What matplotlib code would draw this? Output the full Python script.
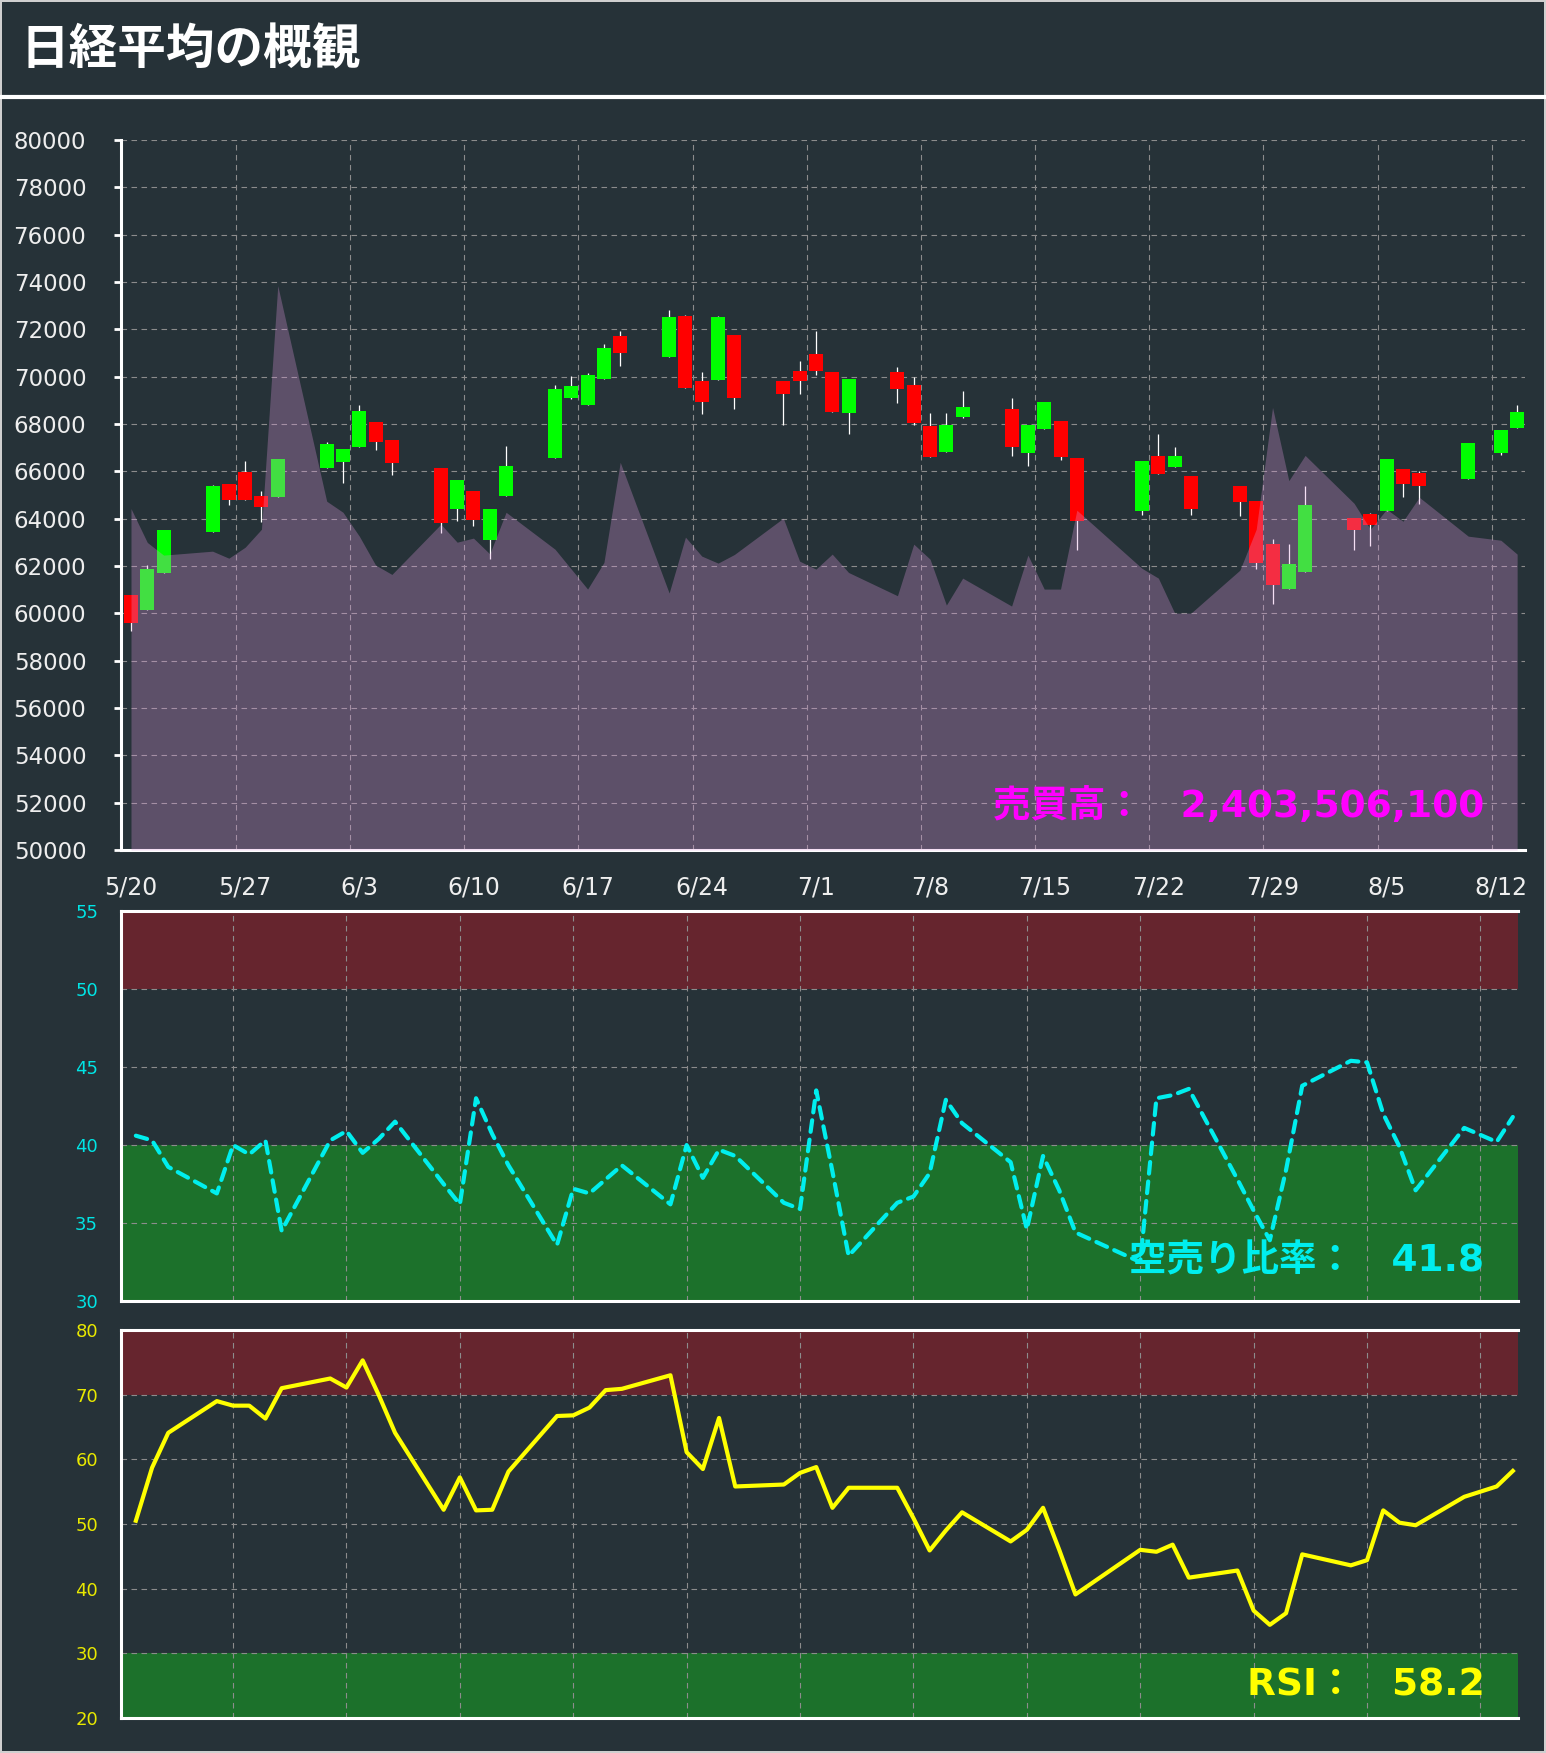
import numpy as np
import pandas as pd
import matplotlib
matplotlib.use('Agg')
import matplotlib.pyplot as plt
from matplotlib.lines import Line2D

plt.rcParams['font.family'] = ['DejaVu Sans', 'Noto Sans CJK JP']

# 取引日 (2020年)
dates = ['5/20', '5/21', '5/22', '5/25', '5/26', '5/27', '5/28', '5/29',
         '6/1', '6/2', '6/3', '6/4', '6/5', '6/8', '6/9', '6/10', '6/11', '6/12',
         '6/15', '6/16', '6/17', '6/18', '6/19', '6/22', '6/23', '6/24', '6/25', '6/26',
         '6/29', '6/30', '7/1', '7/2', '7/3', '7/6', '7/7', '7/8', '7/9', '7/10',
         '7/13', '7/14', '7/15', '7/16', '7/17', '7/21', '7/22', '7/23', '7/24',
         '7/27', '7/28', '7/29', '7/30', '7/31', '8/3', '8/4', '8/5', '8/6', '8/7',
         '8/10', '8/12', '8/13']

price_open = [60770, 60140, 61700, 63430, 65450, 65960, 64950, 64910, 66130, 66380,
              67010, 68070, 67310, 66130, 64400, 65160, 63090, 64950, 66550, 69080,
              68790, 69920, 71740, 70850, 72580, 69800, 69880, 71780, 69800, 70260,
              70980, 70220, 68450, 70180, 69670, 67900, 66800, 68280, 68620, 66760,
              67770, 68110, 66550, 64320, 66640, 66170, 65790, 65370, 64740, 62920,
              61030, 61740, 64020, 64190, 64320, 66090, 65920, 65670, 66760, 67820]
price_high = [60770, 62040, 63510, 65410, 65450, 66420, 65160, 66510, 67230, 66930,
              68790, 68070, 67310, 66130, 65620, 65160, 64400, 67060, 69670, 70010,
              70140, 71400, 71950, 72830, 72620, 70220, 72580, 71780, 69800, 70680,
              71950, 70220, 69920, 70390, 69970, 68450, 68450, 69380, 69080, 67940,
              68950, 68110, 66550, 66420, 67600, 67010, 65790, 65370, 64740, 63140,
              62920, 65370, 64020, 64230, 66510, 66090, 66000, 67180, 67730, 68790]
price_low = [59270, 60140, 61700, 63430, 64570, 64780, 63850, 64910, 66130, 65500,
             67010, 66890, 65830, 63390, 63890, 63680, 62290, 64950, 66550, 69040,
             68790, 69920, 70470, 70850, 69540, 68410, 69880, 68620, 67940, 69250,
             70090, 68490, 67560, 68870, 67980, 66590, 66800, 68240, 66640, 66210,
             67770, 66470, 62670, 64150, 65880, 66170, 64150, 64110, 61870, 60390,
             61030, 61740, 62670, 62840, 64320, 64910, 64610, 65670, 66680, 67820]
price_close = [59610, 61870, 63510, 65370, 64780, 64780, 64480, 66510, 67140, 66930,
               68570, 67230, 66340, 63810, 65620, 63940, 64400, 66210, 69500, 69590,
               70090, 71230, 71020, 72540, 69540, 68950, 72540, 69120, 69250, 69800,
               70260, 68490, 69920, 69500, 68030, 66590, 67940, 68740, 67010, 67940,
               68950, 66590, 63890, 66420, 65880, 66640, 64400, 64700, 62120, 61200,
               62080, 64570, 63510, 63730, 66510, 65450, 65370, 67180, 67730, 68490]

# 売買高 (億株)
volume = [27.74, 24.99, 23.96, 24.28, 23.71, 24.60, 26.06, 45.85, 28.34, 27.44,
          25.50, 23.15, 22.39, 26.47, 25.01, 25.34, 24.06, 27.44, 24.44, 22.82,
          21.20, 23.36, 31.50, 20.88, 25.42, 23.88, 23.31, 24.01, 26.96, 23.47,
          22.82, 24.04, 22.55, 20.66, 24.85, 23.63, 19.90, 22.09, 19.82, 23.96,
          21.20, 21.20, 27.61, 22.88, 22.09, 19.25, 19.25, 22.74, 26.06, 35.96,
          30.01, 32.06, 28.17, 26.06, 27.69, 26.71, 28.66, 25.50, 25.17, 24.04]
latest_volume = 2403506100

# 空売り比率 (%)
short_ratio = [40.6, 40.3, 38.6, 36.9, 40.0, 39.4, 40.3, 34.5, 40.3, 40.9,
               39.5, 40.4, 41.5, 37.5, 36.2, 43.0, 40.7, 38.7, 33.6, 37.2,
               36.9, 37.8, 38.7, 36.2, 40.0, 37.9, 39.7, 39.3, 36.3, 35.9,
               43.5, 38.3, 32.9, 36.3, 36.7, 38.2, 42.9, 41.4, 38.9, 34.6,
               39.3, 37.1, 34.4, 32.5, 43.0, 43.2, 43.6, 37.8, 35.8, 33.9,
               38.4, 43.8, 45.4, 45.3, 42.0, 39.9, 37.1, 41.1, 40.2, 41.8]

# RSI
rsi = [50.5, 58.7, 64.1, 69.0, 68.3, 68.3, 66.3, 71.0, 72.5, 71.1,
       75.3, 69.9, 64.1, 52.2, 57.2, 52.1, 52.2, 58.1, 66.7, 66.8,
       68.0, 70.7, 70.9, 73.0, 61.1, 58.5, 66.4, 55.8, 56.1, 57.9,
       58.8, 52.5, 55.6, 55.6, 50.9, 45.9, 49.0, 51.8, 47.3, 49.1,
       52.5, 46.0, 39.1, 46.0, 45.7, 46.8, 41.7, 42.8, 36.6, 34.4,
       36.2, 45.3, 43.6, 44.4, 52.1, 50.2, 49.8, 54.2, 55.8, 58.2]

BG = '#263238'
GRID = '#8c8c8c'
RED_BAND = '#66252e'
GREEN_BAND = '#1c712b'

start = pd.Timestamp('2020-05-20')
x = np.array((pd.to_datetime(['2020/' + d for d in dates]) - start).days)
tick_days = np.arange(0, 85, 7)
tick_labels = [f'{t.month}/{t.day}' for t in start + pd.to_timedelta(tick_days, unit='D')]

fig = plt.figure(figsize=(15.46, 17.53), dpi=100, facecolor=BG)
fig.patch.set_edgecolor('#cfcfcf')
fig.patch.set_linewidth(1.5)

fig.text(0.0135, 0.9718, '日経平均の概観', color='white', fontsize=35,
         fontweight='bold', family=['Noto Sans CJK JP'], va='center', ha='left')
fig.add_artist(Line2D([0, 1], [0.9447, 0.9447], transform=fig.transFigure,
                      color='white', lw=3))


def style_axes(ax, spines):
    ax.set_facecolor(BG)
    ax.set_axisbelow(True)
    for name, sp in ax.spines.items():
        if name in spines:
            sp.set_color('white')
            sp.set_linewidth(2.2)
        else:
            sp.set_visible(False)


# ---- ローソク足 + 売買高
ax1 = fig.add_axes([0.0783, 0.5151, 0.9082, 0.4050])
style_axes(ax1, ['left', 'bottom'])
ax1.set_xlim(-0.61, 85.49)
ax1.set_ylim(50000, 80000)

o = np.array(price_open)
c = np.array(price_close)
colors = np.where(c >= o, '#00ff00', '#ff0000')
ax1.vlines(x, price_low, price_high, color='white', lw=0.9, zorder=1.5)
ax1.bar(x, c - o, bottom=o, width=0.86, color=colors, zorder=2)

ax1.set_yticks(np.arange(50000, 80001, 2000))
ax1.tick_params(axis='y', direction='out', length=5, width=2, color='white',
                labelsize=16.5, labelcolor='#eeeeee', pad=20)
ax1.set_xticks(tick_days)
ax1.set_xticklabels(tick_labels)
ax1.set_xticks(tick_days[1:] - 0.56, minor=True)
ax1.tick_params(axis='x', which='both', length=0, labelsize=17,
                labelcolor='#eeeeee', pad=18)
ax1.grid(axis='y', which='major', color=GRID, linestyle=(0, (5, 4)), lw=0.8)
ax1.grid(axis='x', which='minor', color=GRID, linestyle=(0, (5, 4)), lw=0.8)

axv = ax1.twinx()
axv.fill_between(x, volume, 0, color='#dd96dd', alpha=0.3, lw=0)
axv.set_ylim(0, 57.68)
axv.set_yticks([])
for sp in axv.spines.values():
    sp.set_visible(False)

fig.text(0.9602, 1 - 807 / 1753, f'売買高：\u3000{latest_volume:,}', color='#ff00ff',
         fontsize=27, fontweight='bold', ha='right', va='center')

# ---- 空売り比率
ax2 = fig.add_axes([0.0783, 0.2578, 0.9036, 0.2225])
style_axes(ax2, ['left', 'top', 'bottom'])
ax2.set_xlim(-0.914, 85.32)
ax2.set_ylim(30, 55)
ax2.axhspan(50, 55, color=RED_BAND, lw=0, zorder=0.2)
ax2.axhspan(30, 40, color=GREEN_BAND, lw=0, zorder=0.2)
ax2.plot(x, short_ratio, color='#00eeee', lw=3.0, linestyle=(0, (2.8, 1.9)),
         dash_capstyle='round', zorder=3)
ax2.set_yticks(np.arange(30, 56, 5))
ax2.tick_params(axis='y', length=0, labelsize=13, labelcolor='#00e5e5', pad=16.5)
ax2.set_xticks([])
ax2.set_xticks(tick_days[1:] - 1, minor=True)
ax2.tick_params(axis='x', which='both', length=0, labelbottom=False)
ax2.grid(axis='y', which='major', color=GRID, linestyle=(0, (5, 4)), lw=0.8)
ax2.grid(axis='x', which='minor', color=GRID, linestyle=(0, (5, 4)), lw=0.8)

fig.text(0.9602, 1 - 1261 / 1753, f'空売り比率：\u3000{short_ratio[-1]}', color='#00eeee',
         fontsize=27, fontweight='bold', ha='right', va='center')

# ---- RSI
ax3 = fig.add_axes([0.0783, 0.0200, 0.9036, 0.2213])
style_axes(ax3, ['left', 'top', 'bottom'])
ax3.set_xlim(-0.914, 85.32)
ax3.set_ylim(20, 80)
ax3.axhspan(70, 80, color=RED_BAND, lw=0, zorder=0.2)
ax3.axhspan(20, 30, color=GREEN_BAND, lw=0, zorder=0.2)
ax3.plot(x, rsi, color='#ffff00', lw=3.0, zorder=3)
ax3.set_yticks(np.arange(20, 81, 10))
ax3.tick_params(axis='y', length=0, labelsize=13, labelcolor='#e8e800', pad=16.5)
ax3.set_xticks([])
ax3.set_xticks(tick_days[1:] - 1, minor=True)
ax3.tick_params(axis='x', which='both', length=0, labelbottom=False)
ax3.grid(axis='y', which='major', color=GRID, linestyle=(0, (5, 4)), lw=0.8)
ax3.grid(axis='x', which='minor', color=GRID, linestyle=(0, (5, 4)), lw=0.8)

fig.text(0.9602, 1 - 1686 / 1753, f'RSI：\u3000{rsi[-1]}', color='#ffff00',
         fontsize=27, fontweight='bold', ha='right', va='center')

fig.savefig('out.png', dpi=100, facecolor=BG)
